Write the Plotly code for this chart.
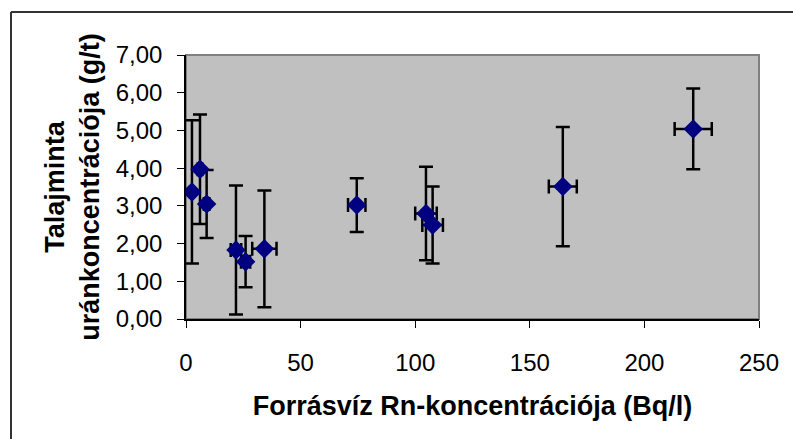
import plotly.graph_objects as go

# Radon concentration of spring water (Bq/l) vs. uranium content of soil samples (g/t)
rn_conc = [2.6, 6.1, 9.0, 21.8, 26.0, 34.2, 74.5, 104.7, 107.6, 164.4, 221.3]
rn_err = [0.8, 1.0, 1.2, 2.3, 2.0, 5.3, 3.8, 4.7, 4.5, 6.1, 8.1]
u_conc = [3.37, 3.97, 3.05, 1.83, 1.52, 1.86, 3.02, 2.80, 2.49, 3.51, 5.04]
u_err = [1.90, 1.45, 0.90, 1.71, 0.68, 1.55, 0.71, 1.24, 1.02, 1.58, 1.07]

x_ticks = [0, 50, 100, 150, 200, 250]
y_ticks = [0, 1, 2, 3, 4, 5, 6, 7]

FONT = "Liberation Sans, Arial, sans-serif"

fig = go.Figure()
fig.add_trace(go.Scatter(
    x=rn_conc, y=u_conc, mode="markers",
    marker=dict(symbol="diamond", size=15, color="#000080",
                line=dict(width=0)),
    error_x=dict(type="data", array=rn_err, color="black",
                 thickness=2.5, width=7),
    error_y=dict(type="data", array=u_err, color="black",
                 thickness=2.5, width=7),
    showlegend=False,
))

W, H = 793, 439
L, R, T, B = 186, 34, 55, 120
pw, ph = W - L - R, H - T - B

def px_x(p):
    return (p - L) / pw

def px_y(p):
    return (H - B - p) / ph

border = dict(color="#333333", width=2)

fig.update_layout(
    width=W, height=H,
    margin=dict(l=L, r=R, t=T, b=B),
    paper_bgcolor="white",
    plot_bgcolor="#C0C0C0",
    separators=", ",
    font=dict(family=FONT, color="black", size=24),
    shapes=[
        # grey frame around the plot area
        dict(type="rect", xref="paper", yref="paper", x0=0, x1=1, y0=0, y1=1,
             line=dict(color="#808080", width=2), layer="below"),
        # outer chart border: top and left edges
        dict(type="line", xref="paper", yref="paper",
             x0=px_x(11), x1=px_x(W), y0=px_y(12), y1=px_y(12),
             line=border),
        dict(type="line", xref="paper", yref="paper",
             x0=px_x(11), x1=px_x(11), y0=px_y(12), y1=px_y(H),
             line=border),
    ],
    xaxis=dict(
        range=[0, 250], tickvals=x_ticks, ticktext=[str(v) for v in x_ticks],
        showgrid=False, zeroline=False, showline=True, linecolor="black",
        linewidth=1.5, ticks="outside", ticklen=7, tickcolor="black",
        tickfont=dict(size=24), ticklabelstandoff=14,
        title=dict(text="<b>Forrásvíz Rn-koncentrációja (Bq/l)</b>",
                   font=dict(size=27), standoff=22),
    ),
    yaxis=dict(
        range=[0, 7], tickvals=y_ticks, tickformat=".2f",
        showgrid=False, zeroline=False, showline=True, linecolor="black",
        linewidth=1.5, ticks="outside", ticklen=7, tickcolor="black",
        tickfont=dict(size=24), ticklabelstandoff=10,
        title=dict(text="<b>Talajminta<br>uránkoncentrációja (g/t)</b>",
                   font=dict(size=27), standoff=8),
    ),
)

fig.write_html("out.html")
